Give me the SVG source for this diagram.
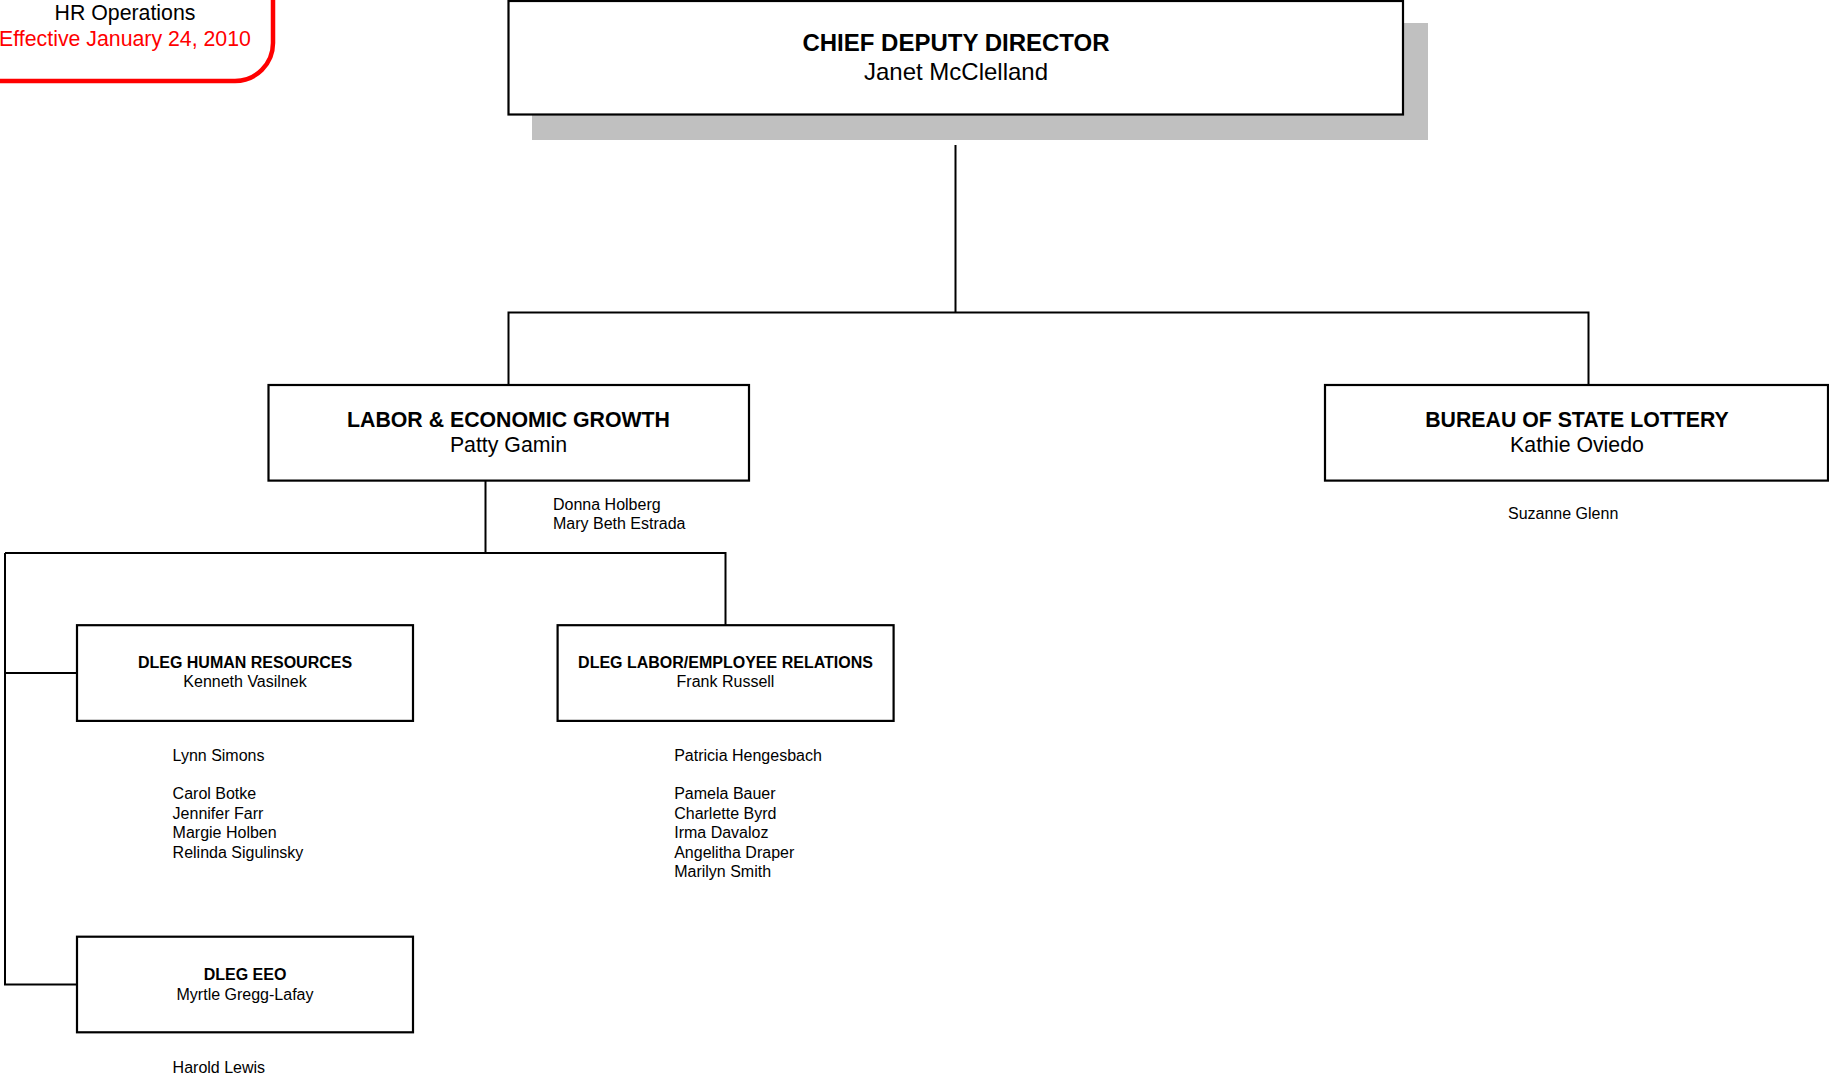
<svg xmlns="http://www.w3.org/2000/svg" width="1829" height="1079" viewBox="0 0 1829 1079">
<style>
text{font-family:"Liberation Sans",Arial,sans-serif;fill:#000}
.box{fill:#fff;stroke:#000;stroke-width:2.2}
.shadow{fill:#c0c0c0}
.conn{fill:none;stroke:#000;stroke-width:2}
.t24b{font-size:24px;font-weight:bold}
.t24{font-size:24px}
.t21b{font-size:21.3px;font-weight:bold}
.t21{font-size:21.3px}
.t16b{font-size:16px;font-weight:bold}
.t16{font-size:16px}
.c{text-anchor:middle}
</style>
<rect width="1829" height="1079" fill="#fff"/>
<g id="title">
<rect x="-40" y="-40" width="313" height="121" rx="38" ry="38" fill="#fff" stroke="#ff0000" stroke-width="4.5"/>
<text x="125" y="20" class="t21 c">HR Operations</text>
<text x="125" y="46" class="t21 c" style="fill:#ff0000">Effective January 24, 2010</text>
</g>
<g id="connectors">
<path class="conn" d="M955.5 145V312.5M508.5 385V312.5H1588.5V385"/>
<path class="conn" d="M485.5 480.6V553M5 553H725.5V625M5 553V984.5H77M5 673H77"/>
</g>
<g id="chief">
<rect class="shadow" x="532" y="23" width="896" height="117"/>
<rect class="box" x="508.5" y="1" width="894.5" height="113.5"/>
<text x="956" y="51" class="t24b c">CHIEF DEPUTY DIRECTOR</text>
<text x="956" y="80" class="t24 c">Janet McClelland</text>
</g>
<g id="leg">
<rect class="box" x="268.5" y="385" width="480.5" height="95.6"/>
<text x="508.5" y="427" class="t21b c">LABOR &amp; ECONOMIC GROWTH</text>
<text x="508.5" y="451.5" class="t21 c">Patty Gamin</text>
<text x="553" y="510" class="t16">Donna Holberg</text>
<text x="553" y="529" class="t16">Mary Beth Estrada</text>
</g>
<g id="lottery">
<rect class="box" x="1325" y="385" width="503" height="95.6"/>
<text x="1577" y="427" class="t21b c">BUREAU OF STATE LOTTERY</text>
<text x="1577" y="451.5" class="t21 c">Kathie Oviedo</text>
<text x="1508" y="519" class="t16">Suzanne Glenn</text>
</g>
<g id="hr">
<rect class="box" x="77" y="625.2" width="336" height="95.7"/>
<text x="245" y="667.5" class="t16b c">DLEG HUMAN RESOURCES</text>
<text x="245" y="687" class="t16 c">Kenneth Vasilnek</text>
<text x="172.6" y="760.6" class="t16">Lynn Simons</text>
<text x="172.6" y="799" class="t16">Carol Botke</text>
<text x="172.6" y="818.5" class="t16">Jennifer Farr</text>
<text x="172.6" y="838" class="t16">Margie Holben</text>
<text x="172.6" y="857.5" class="t16">Relinda Sigulinsky</text>
</g>
<g id="labor">
<rect class="box" x="557.6" y="625.2" width="336" height="95.7"/>
<text x="725.5" y="667.5" class="t16b c">DLEG LABOR/EMPLOYEE RELATIONS</text>
<text x="725.5" y="687" class="t16 c">Frank Russell</text>
<text x="674.2" y="760.6" class="t16">Patricia Hengesbach</text>
<text x="674.2" y="799" class="t16">Pamela Bauer</text>
<text x="674.2" y="818.5" class="t16">Charlette Byrd</text>
<text x="674.2" y="838" class="t16">Irma Davaloz</text>
<text x="674.2" y="857.5" class="t16">Angelitha Draper</text>
<text x="674.2" y="877" class="t16">Marilyn Smith</text>
</g>
<g id="eeo">
<rect class="box" x="77" y="936.7" width="336" height="95.6"/>
<text x="245" y="980" class="t16b c">DLEG EEO</text>
<text x="245" y="999.5" class="t16 c">Myrtle Gregg-Lafay</text>
<text x="172.6" y="1073" class="t16">Harold Lewis</text>
</g>
</svg>
